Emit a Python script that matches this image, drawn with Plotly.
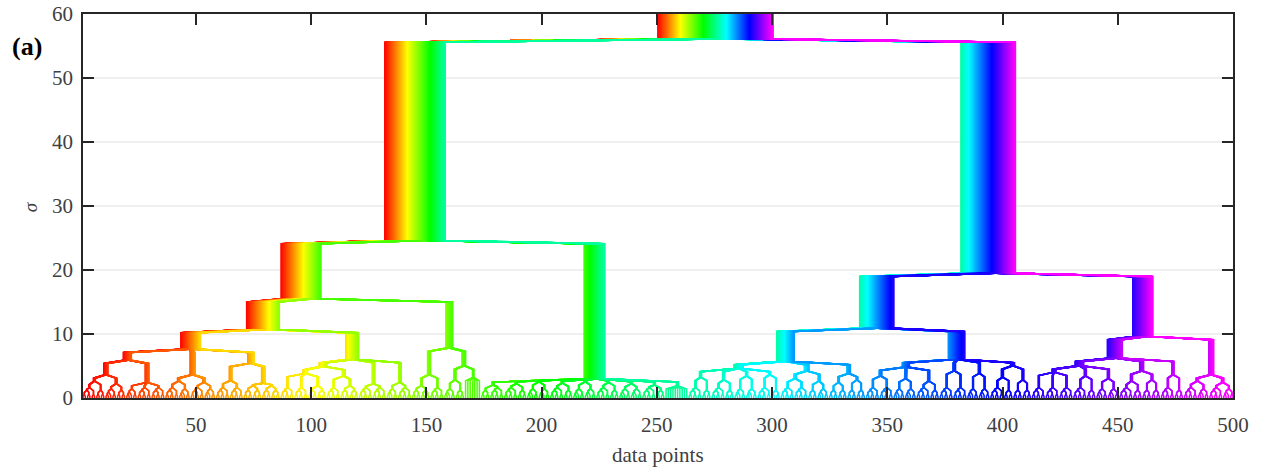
import colorsys
import plotly.graph_objects as go

# ---------------- data: scale-space dendrogram (heights = sigma) ----------------
# node = [merge_height, child, child, ...]; 1 = a single data point
P2 = [0.6, 1, 1]
P3 = [0.9, P2, 1]
Q4 = [1.2, P2, P2]
Q5 = [1.4, P3, P2]
Q6 = [1.6, Q4, P2]
Q8 = [1.9, Q4, Q4]

LA1 = [5.9, [3.6, [2.6, Q6, Q4], [2.2, Q5, Q4]], [2.4, Q5, Q6, Q6]]
LA2 = [3.6, [2.6, Q6, Q5], [2.4, Q6, Q5]]
LA3 = [5.4, [2.7, Q6, Q6], [2.3, Q8, Q8]]
LA = [7.6, LA1, LA2, LA3]
LB1 = [4.9, [3.8, Q6, Q6, Q8], [3.4, Q6, Q8]]
LB2 = [2.2, Q6, Q6]
LB3 = [2.4, Q5, Q6]
LB = [6.0, LB1, LB2, LB3]
L1a = [10.7, LA, LB]
L1b = [7.8, [3.6, Q8, Q6], [5.0, [2.8, Q5, Q4], [3.2, 1, 1, 1, 1, 1, 1, 1]]]
L1 = [15.5, L1a, L1b]
L2 = [3.0,
      [2.0, Q4, Q6], [2.2, Q6, Q4], [2.5, Q5, Q5], [2.3, Q6, Q4], [2.5, Q5, Q5],
      [2.4, Q6, Q4], [2.2, Q5, Q5], [2.0, Q6, Q4], [1.9, 1, 1, 1, 1, 1, 1, 1, 1, 1, 1]]
L = [24.6, L1, L2]

R1a = [5.7,
       [4.6, [3.2, Q6, Q4], [2.8, Q6, Q4], [3.4, Q5, Q5], [3.6, Q6, Q4]],
       [4.2, [3.0, Q6, Q6], [2.6, Q4, Q5]],
       [3.8, [2.4, Q4, Q4], [2.8, Q4, Q4]]]
R1b = [6.0,
       [4.8, [3.4, Q6, Q6], [3.0, Q5, Q5], [2.6, Q6, Q4]],
       [4.2, Q6, Q6], [3.8, Q5, Q5],
       [5.0, [3.2, Q6, Q4], [2.8, Q4, Q4]]]
R1 = [10.9, R1a, R1b]
R2a = [6.2,
       [5.0, [4.0, Q6, Q6, Q6], [3.4, Q6, Q4], [3.0, Q5, Q5]],
       [4.2, [2.6, Q6, Q4], [2.8, Q4, Q4]],
       [3.6, Q6, Q4]]
R2b = [3.6, [2.6, Q6, Q5], [2.4, Q6, Q5]]
R2 = [9.6, R2a, R2b]
R = [19.5, R1, R2]

ROOT = [56.1, L, R]

X_TICKS = [50, 100, 150, 200, 250, 300, 350, 400, 450, 500]
Y_TICKS = [0, 10, 20, 30, 40, 50, 60]
X_RANGE = [1, 500]
Y_RANGE = [0, 60]

# ---------------- layout of the tree ----------------
SPACING = 0.1     # offset between member lines inside a band
TOP = 63          # root band continues past the axis top

counter = [0]


def build(node):
    if node == 1:
        counter[0] += 1
        return {"h": 0.0, "leaves": [counter[0]], "kids": []}
    kids = [build(c) for c in node[1:]]
    leaves = [p for k in kids for p in k["leaves"]]
    return {"h": float(node[0]), "leaves": leaves, "kids": kids}


tree = build(ROOT)
N = counter[0]

paths = {}


def walk(node, chain):
    chain = chain + [node]
    if not node["kids"]:
        paths[node["leaves"][0]] = chain[::-1]
    for k in node["kids"]:
        walk(k, chain)


walk(tree, [])


def xpos(node, p):
    lv = node["leaves"]
    return sum(lv) / len(lv) + SPACING * lv.index(p)


fig = go.Figure()
for p in range(1, N + 1):
    chain = paths[p]
    xs = [float(p)]
    ys = [0.0]
    for c, par in zip(chain[:-1], chain[1:]):
        d = min(0.5, 0.6 * (par["h"] - c["h"]))
        xc = xpos(c, p)
        xp = xpos(par, p)
        xs += [xc, xp]
        ys += [par["h"] - d, par["h"]]
    xs.append(xpos(chain[-1], p))
    ys.append(TOP)
    hue = (300.0 * (p - 1) / (N - 1)) / 360.0
    r, g, b = colorsys.hsv_to_rgb(hue, 1, 1)
    col = "rgb(%d,%d,%d)" % (round(r * 255), round(g * 255), round(b * 255))
    fig.add_trace(go.Scatter(x=xs, y=ys, mode="lines",
                             line=dict(color=col, width=1.5),
                             hoverinfo="skip", showlegend=False))

FONT = "Liberation Serif, Times New Roman, serif"
axis_common = dict(showline=True, linecolor="#262626", linewidth=1.5, mirror="ticks",
                   ticks="inside", ticklen=11, tickwidth=1.5, tickcolor="#262626",
                   tickfont=dict(family=FONT, size=21, color="#404040"),
                   zeroline=False, automargin=False)

fig.update_layout(
    width=1264, height=470,
    margin=dict(l=83, r=31, t=14, b=72),
    paper_bgcolor="white", plot_bgcolor="white",
    xaxis=dict(range=X_RANGE, tickvals=X_TICKS, showgrid=False,
               ticklabelstandoff=7, **axis_common),
    yaxis=dict(range=Y_RANGE, tickvals=Y_TICKS, showgrid=True, gridcolor="#efefef",
               gridwidth=1.5, ticklabelstandoff=4, **axis_common),
    annotations=[
        dict(text="data points", x=0.5, y=-0.148, xref="paper", yref="paper",
             xanchor="center", yanchor="middle", showarrow=False,
             font=dict(family=FONT, size=21, color="#404040")),
        dict(text="<i>σ</i>", x=-0.046, y=0.497, xref="paper", yref="paper",
             xanchor="center", yanchor="middle", showarrow=False, textangle=-90,
             font=dict(family=FONT, size=19, color="#404040")),
        dict(text="<b>(a)</b>", x=-0.0638, y=0.915, xref="paper", yref="paper",
             xanchor="left", yanchor="middle", showarrow=False,
             font=dict(family=FONT, size=26, color="black")),
    ],
)

fig.write_html("out.html")
